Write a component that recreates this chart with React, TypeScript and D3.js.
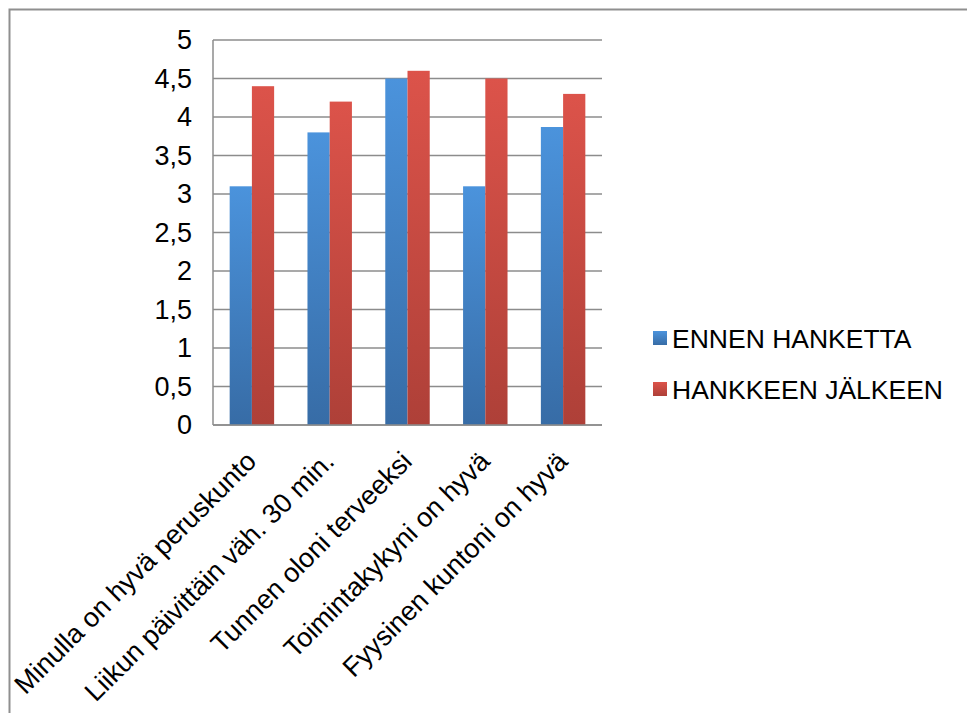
import React from "react";
import * as d3 from "d3";

const categories = [
  "Minulla on hyvä peruskunto",
  "Liikun päivittäin väh. 30 min.",
  "Tunnen oloni terveeksi",
  "Toimintakykyni on hyvä",
  "Fyysinen kuntoni on hyvä",
];
const seriesNames = ["ENNEN HANKETTA", "HANKKEEN JÄLKEEN"];
const before = [3.1, 3.8, 4.5, 3.1, 3.87];
const after = [4.4, 4.2, 4.6, 4.5, 4.3];
const yTicks = [0, 0.5, 1, 1.5, 2, 2.5, 3, 3.5, 4, 4.5, 5];

const W = 967;
const H = 713;
const plot = { left: 213, right: 602, top: 40, bottom: 425 };
const FONT = "'Liberation Sans', Arial, Helvetica, sans-serif";

export default function App() {
  const x = d3
    .scaleBand<string>()
    .domain(categories)
    .range([plot.left, plot.right])
    .paddingInner(0.4286)
    .paddingOuter(0.2143);
  const xs = d3
    .scaleBand<number>()
    .domain([0, 1])
    .range([0, x.bandwidth()])
    .padding(0);
  const y = d3.scaleLinear().domain([0, 5]).range([plot.bottom, plot.top]);
  const fmt = (v: number) => String(v).replace(".", ",");
  const series = [before, after];
  const grads = ["gBlue", "gRed"];

  return (
    <svg
      width={W}
      height={H}
      style={{ position: "absolute", left: 0, top: 0, background: "#fff" }}
      fontFamily={FONT}
    >
      <defs>
        <linearGradient id="gBlue" x1="0" y1="0" x2="0" y2="1">
          <stop offset="0" stopColor="#4b93dc" />
          <stop offset="1" stopColor="#376ca6" />
        </linearGradient>
        <linearGradient id="gRed" x1="0" y1="0" x2="0" y2="1">
          <stop offset="0" stopColor="#dc534a" />
          <stop offset="1" stopColor="#ae4038" />
        </linearGradient>
      </defs>
      <rect x={9.5} y={9.5} width={980} height={730} fill="#fff" stroke="#8f8f8f" strokeWidth={2} />

      {/* gridlines */}
      {yTicks.map((t) => (
        <line
          key={"g" + t}
          x1={plot.left}
          x2={plot.right}
          y1={y(t)}
          y2={y(t)}
          stroke="#8c8c8c"
          strokeWidth={1.5}
        />
      ))}
      <line x1={plot.left} x2={plot.left} y1={plot.top} y2={plot.bottom} stroke="#8c8c8c" strokeWidth={1.5} />

      {/* bars */}
      {categories.map((c, i) =>
        series.map((s, k) => (
          <rect
            key={c + k}
            x={(x(c) as number) + (xs(k) as number)}
            y={y(s[i])}
            width={xs.bandwidth()}
            height={plot.bottom - y(s[i])}
            fill={`url(#${grads[k]})`}
          />
        ))
      )}
      <line x1={plot.left} x2={plot.right} y1={plot.bottom} y2={plot.bottom} stroke="#8c8c8c" strokeWidth={1.5} />

      {/* y tick labels */}
      {yTicks.map((t) => (
        <text
          key={"t" + t}
          x={192}
          y={y(t)}
          textAnchor="end"
          dominantBaseline="central"
          fontSize={27}
          fill="#000"
        >
          {fmt(t)}
        </text>
      ))}

      {/* x labels */}
      {categories.map((c) => {
        const cx = (x(c) as number) + x.bandwidth() / 2;
        return (
          <text
            key={"x" + c}
            transform={`translate(${cx + 6},${plot.bottom + 38}) rotate(-45)`}
            textAnchor="end"
            fontSize={27}
            fill="#000"
          >
            {c}
          </text>
        );
      })}

      {/* legend */}
      {seriesNames.map((n, k) => {
        const by = 348 + k * 51;
        return (
          <g key={n}>
            <rect x={653} y={by - 17} width={14} height={14} fill={`url(#${grads[k]})`} />
            <text x={672} y={by} fontSize={26.5} fill="#000">
              {n}
            </text>
          </g>
        );
      })}
    </svg>
  );
}
